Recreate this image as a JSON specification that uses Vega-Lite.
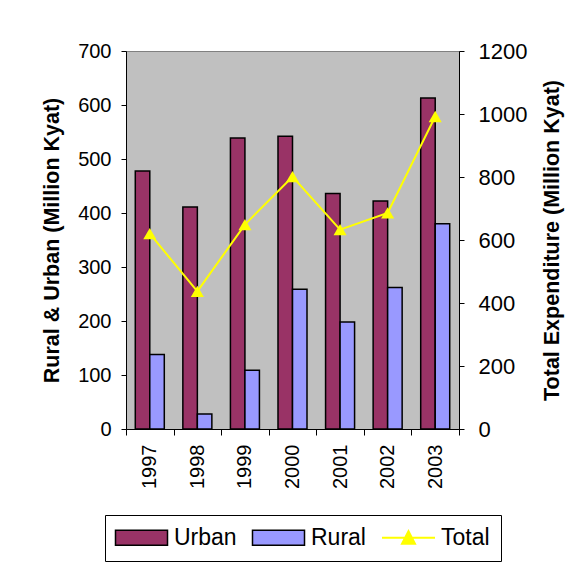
{
  "$schema": "https://vega.github.io/schema/vega-lite/v6.json",
  "width": 333,
  "height": 378,
  "autosize": {"type": "none"},
  "padding": {"left": 126, "top": 51, "right": 126, "bottom": 134},
  "background": "white",
  "config": {
    "font": "Liberation Sans",
    "view": {"fill": "#C0C0C0", "stroke": "#808080", "strokeWidth": 1},
    "axis": {"domainColor": "black", "tickColor": "black", "labelColor": "black", "titleColor": "black", "grid": false, "labelFont": "Liberation Sans", "titleFont": "Liberation Sans", "domainWidth": 1, "tickWidth": 1}
  },
  "datasets": {
    "bars": [
      {"year": "1997", "series": "Urban", "value": 478}, {"year": "1997", "series": "Rural", "value": 138},
      {"year": "1998", "series": "Urban", "value": 411}, {"year": "1998", "series": "Rural", "value": 28},
      {"year": "1999", "series": "Urban", "value": 539}, {"year": "1999", "series": "Rural", "value": 109},
      {"year": "2000", "series": "Urban", "value": 542}, {"year": "2000", "series": "Rural", "value": 259},
      {"year": "2001", "series": "Urban", "value": 436}, {"year": "2001", "series": "Rural", "value": 198},
      {"year": "2002", "series": "Urban", "value": 422}, {"year": "2002", "series": "Rural", "value": 262},
      {"year": "2003", "series": "Urban", "value": 613}, {"year": "2003", "series": "Rural", "value": 380}
    ],
    "totals": [
      {"year": "1997", "total": 620}, {"year": "1998", "total": 437}, {"year": "1999", "total": 649},
      {"year": "2000", "total": 801}, {"year": "2001", "total": 633}, {"year": "2002", "total": 686},
      {"year": "2003", "total": 992}
    ]
  },
  "layer": [
    {
      "data": {"name": "bars"},
      "mark": {"type": "bar", "stroke": "black", "strokeWidth": 1.5, "opacity": 1},
      "encoding": {
        "x": {"field": "year", "type": "ordinal", "scale": {"paddingInner": 0, "paddingOuter": 0},
              "axis": {"title": null, "labelAngle": -90, "labelFontSize": 20, "tickBand": "extent", "tickSize": 6, "labelPadding": 9}},
        "xOffset": {"field": "series", "sort": ["Urban", "Rural"], "scale": {"paddingInner": 0, "paddingOuter": 0.64}},
        "y": {"field": "value", "type": "quantitative", "scale": {"domain": [0, 700]},
              "axis": {"values": [0, 100, 200, 300, 400, 500, 600, 700], "title": "Rural & Urban (Million Kyat)", "titleFontSize": 21.5, "titleFontWeight": "bold", "labelFontSize": 20, "tickSize": 5, "labelPadding": 10, "titlePadding": 14}},
        "color": {"field": "series", "type": "nominal",
                  "scale": {"domain": ["Urban", "Rural", "Total"], "range": ["#993366", "#9999FF", "#FFFF00"]},
                  "legend": {"orient": "none", "legendX": -21, "legendY": 464, "direction": "horizontal", "title": null,
                             "labelFontSize": 23, "labelFont": "Liberation Sans", "labelColor": "black",
                             "symbolSize": 576, "symbolOffset": 14, "labelOffset": 21, "columnPadding": 12, "padding": 11,
                             "strokeColor": "black", "fillColor": "white",
                             "symbolType": {"expr": "datum.value === 'Total' ? 'M-2.208,0H2.208M0,-0.54L0.54,0.5L-0.54,0.5Z' : 'M-2.167,-0.625H2.167V0.625H-2.167Z'"},
                             "symbolStrokeColor": {"expr": "datum.value === 'Total' ? '#FFFF00' : 'black'"},
                             "symbolStrokeWidth": {"expr": "datum.value === 'Total' ? 2 : 1.5"},
                             "symbolOpacity": 1}}
      }
    },
    {
      "data": {"name": "totals"},
      "mark": {"type": "line", "color": "#FFFF00", "strokeWidth": 2,
               "point": {"shape": "triangle-up", "size": 170, "filled": true, "color": "#FFFF00", "opacity": 1}},
      "encoding": {
        "x": {"field": "year", "type": "ordinal"},
        "y": {"field": "total", "type": "quantitative", "scale": {"domain": [0, 1200]},
              "axis": {"orient": "right", "values": [0, 200, 400, 600, 800, 1000, 1200], "format": "d", "title": "Total Expenditure (Million Kyat)", "titleAngle": 270, "titleBaseline": "top", "titleFontSize": 21.5, "titleFontWeight": "bold", "labelFontSize": 22, "tickSize": 5, "labelPadding": 14, "titlePadding": 15}}
      }
    }
  ],
  "resolve": {"scale": {"y": "independent"}}
}
